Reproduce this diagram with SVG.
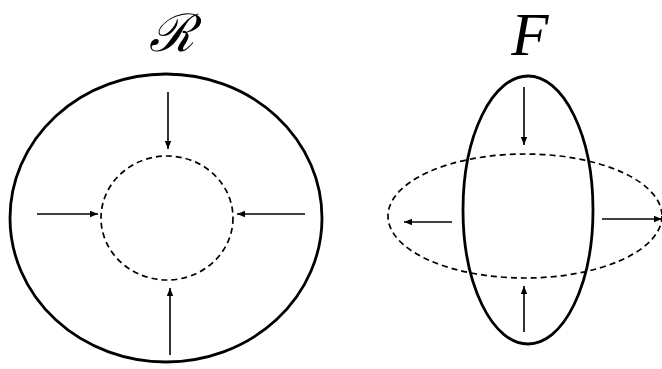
<svg xmlns="http://www.w3.org/2000/svg" width="662" height="369" viewBox="0 0 662 369">
<style>
.solid{fill:none;stroke:#000;stroke-width:2.8}
.dash{fill:none;stroke:#000;stroke-width:1.7;stroke-dasharray:6 4}
.arr{fill:none;stroke:#000;stroke-width:1.6;marker-end:url(#ah)}
.lbl{font-family:"Liberation Serif","DejaVu Serif",serif;font-style:italic;fill:#000}
</style>
<defs>
<marker id="ah" viewBox="0 0 10 10" refX="10" refY="5" markerWidth="8" markerHeight="8" markerUnits="userSpaceOnUse" orient="auto">
<path d="M0,1 L10,5 L0,9 Z" fill="#000"/>
</marker>
</defs>
<rect width="662" height="369" fill="#fff"/>
<g id="label-R"><text class="lbl" x="171" y="51" font-size="52" text-anchor="middle" style="font-family:'DejaVu Serif','Liberation Serif',serif">ℛ</text></g>
<g id="label-F"><text class="lbl" x="530" y="55" font-size="61" text-anchor="middle">F</text></g>
<g id="R-outer"><ellipse class="solid" cx="166" cy="218" rx="156" ry="144"/></g>
<g id="R-inner"><ellipse class="dash" cx="167" cy="218" rx="66" ry="62"/></g>
<g id="F-vertical"><ellipse class="solid" cx="528" cy="210" rx="65" ry="134"/></g>
<g id="F-horizontal"><ellipse class="dash" cx="525" cy="216" rx="137" ry="62"/></g>
<g id="connectors">
<line class="arr" x1="168" y1="92" x2="168" y2="149"/>
<line class="arr" x1="37" y1="214" x2="98" y2="214"/>
<line class="arr" x1="305" y1="214" x2="237" y2="214"/>
<line class="arr" x1="170" y1="355" x2="170" y2="288"/>
<line class="arr" x1="524" y1="87" x2="524" y2="145"/>
<line class="arr" x1="524" y1="332" x2="524" y2="286"/>
<line class="arr" x1="452" y1="222" x2="404" y2="222"/>
<line class="arr" x1="602" y1="219" x2="662" y2="219"/>
</g>
</svg>
